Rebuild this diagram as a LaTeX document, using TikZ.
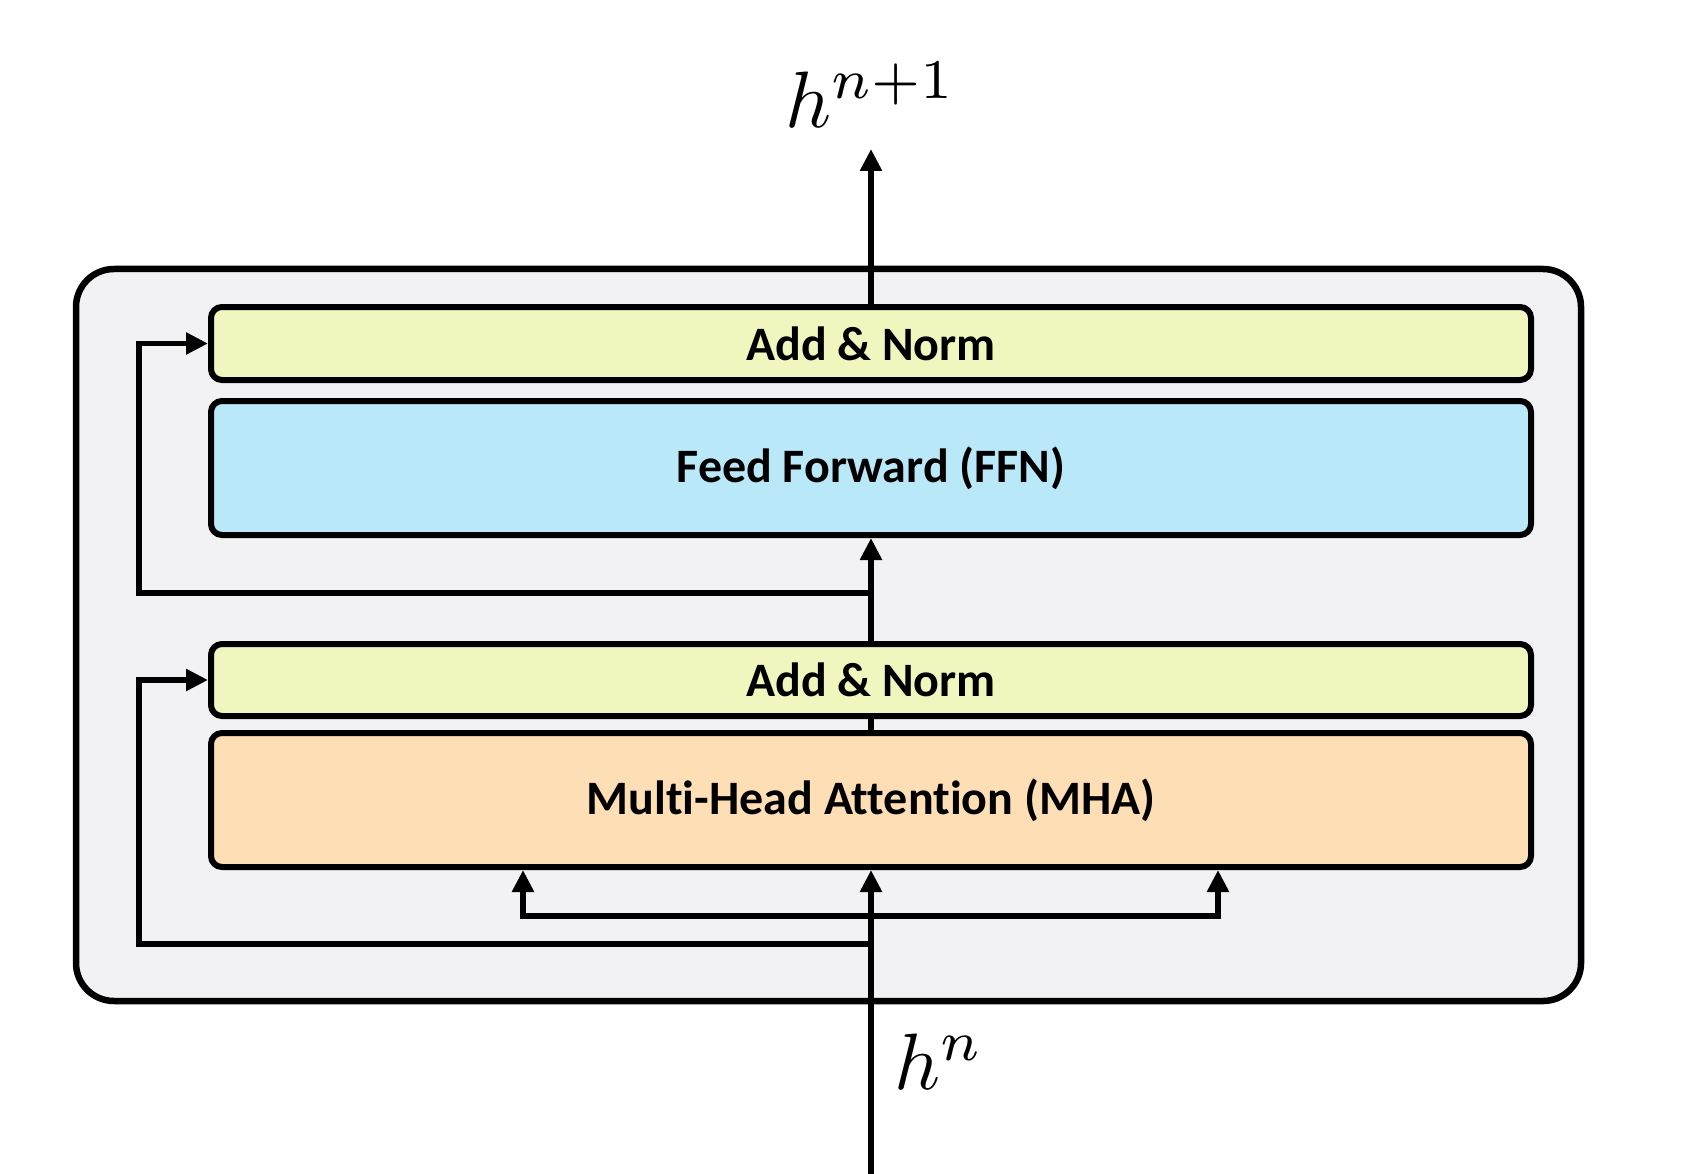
\documentclass[tikz,border=0pt]{standalone}
\usepackage{fontspec}
\usepackage{graphicx}
\setmainfont{Carlito}[Ligatures={NoCommon}]
\usetikzlibrary{arrows.meta}
\definecolor{ancol}{RGB}{241,245,190}
\definecolor{ffncol}{RGB}{185,233,248}
\definecolor{mhacol}{RGB}{254,222,180}
\definecolor{outcol}{RGB}{242,242,244}
\tikzset{
  blk/.style={draw=black, line width=6pt, rounded corners=11pt, minimum width=1320pt,
    font=\fontsize{48}{54}\selectfont\bfseries, inner sep=0pt},
  conn/.style={draw=black, line width=5.5pt},
  arr/.style={conn, -{Triangle[length=22pt,width=21pt]}},
  lbl/.style={inner sep=0pt}
}
\begin{document}
\begin{tikzpicture}[x=1pt,y=-1pt]
\useasboundingbox (0,0) rectangle (1694,1174);
% outer container
\node[draw=black, line width=6.5pt, fill=outcol, rounded corners=38pt,
  minimum width=1505pt, minimum height=732pt, inner sep=0pt] (outer) at (828.5,635) {};
% blocks
\node[blk, fill=ancol, minimum height=73pt] (an2) at (871,343.5) {Add \& Norm};
\node[blk, fill=ffncol, minimum height=134pt] (ffn) at (871,468) {Feed Forward (FFN)};
\node[blk, fill=ancol, minimum height=72pt] (an1) at (871,680) {Add \& Norm};
\node[blk, fill=mhacol, minimum height=134pt] (mha) at (871,800) {Multi-Head Attention (MHA)};
% coordinates
\coordinate (in) at (871,1174);
\coordinate (r1) at (871,944);
\coordinate (l1) at (139,944);
\coordinate (b0) at (871,916);
\coordinate (bl) at (523,916);
\coordinate (br) at (1218,916);
\coordinate (r2) at (871,593);
\coordinate (l2) at (139,593);
\coordinate (out) at (871,149);
% connectors
\draw[arr] (in) -- (mha.south);
\draw[arr] (b0) -| (bl |- mha.south);
\draw[arr] (b0) -| (br |- mha.south);
\draw[arr] (r1) -- (l1) |- (an1.west);
\draw[conn] (mha.north) -- (an1.south);
\draw[arr] (an1.north) -- (ffn.south);
\draw[arr] (r2) -- (l2) |- (an2.west);
\draw[arr] (an2.north) -- (out);
% labels
\node[lbl] (hout) at (871,95) {\scalebox{8}{$h^{n+1}$}};
\node[lbl, anchor=west] (hin) at (894,1062) {\scalebox{8}{$h^{n}$}};
\end{tikzpicture}
\end{document}
